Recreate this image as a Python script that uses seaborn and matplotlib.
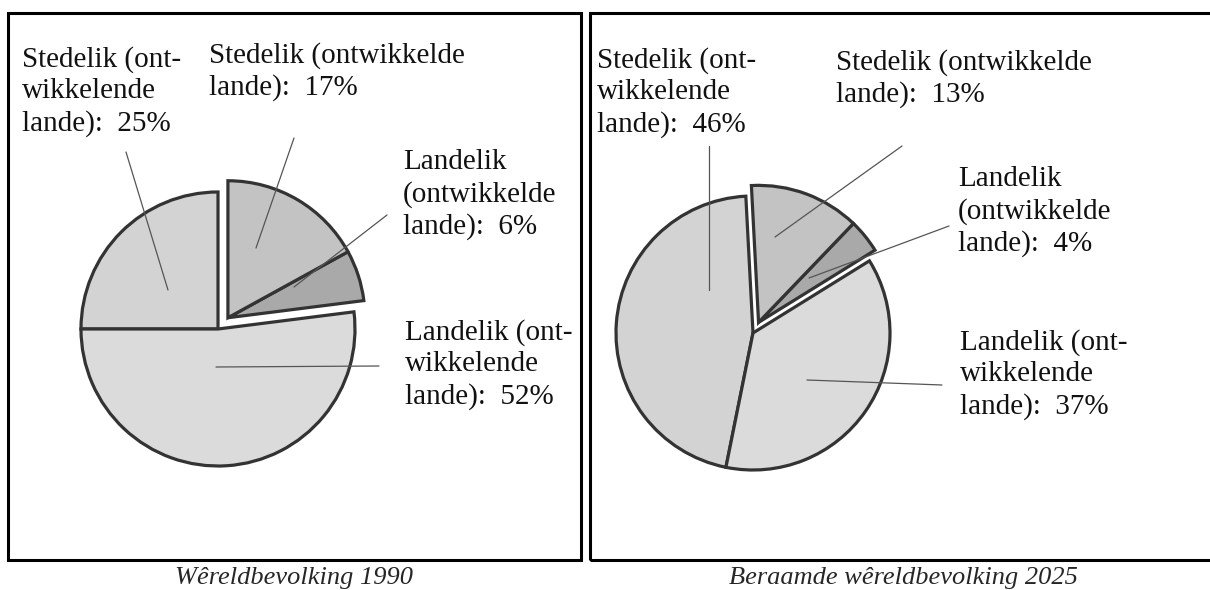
import numpy as np
import seaborn as sns
import matplotlib.pyplot as plt
from matplotlib.patches import Rectangle

sns.set_style("white")
plt.rcParams['font.family'] = ['Liberation Serif', 'DejaVu Serif']

# data: order = as drawn counter-clockwise from the start angle
labels_1990 = ["Stedelik (ont-\nwikkelende\nlande):  25%",
               "Landelik (ont-\nwikkelende\nlande):  52%",
               "Landelik\n(ontwikkelde\nlande):  6%",
               "Stedelik (ontwikkelde\nlande):  17%"]
values_1990 = [25, 52, 6, 17]

labels_2025 = ["Stedelik (ont-\nwikkelende\nlande):  46%",
               "Landelik (ont-\nwikkelende\nlande):  37%",
               "Landelik\n(ontwikkelde\nlande):  4%",
               "Stedelik (ontwikkelde\nlande):  13%"]
values_2025 = [46, 37, 4, 13]

titles = ["Wêreldbevolking 1990", "Beraamde wêreldbevolking 2025"]

# grey shades per slice
kleure = ["#d3d3d3", "#dbdbdb", "#a9a9a9", "#c3c3c3"]

W, H = 1210, 590
fig = plt.figure(figsize=(W / 100, H / 100), dpi=100)
ax = fig.add_axes([0, 0, 1, 1])


def py(y):
    # pixel row (from top) -> data y
    return H - y


def teken_pie(values, labels, center, start, skuif, label_pos, lyne):
    wedges, _ = ax.pie(values, colors=kleure, startangle=start, counterclock=True,
                       center=center, radius=137,
                       wedgeprops=dict(edgecolor="#333333", linewidth=2.3))
    # the two "ontwikkelde" slices are pulled out together
    tot = sum(values)
    a0 = start + 360 * sum(values[:2]) / tot
    a1 = start + 360
    mid = np.deg2rad((a0 + a1) / 2)
    dx, dy = skuif * np.cos(mid), skuif * np.sin(mid)
    for w in wedges[2:]:
        w.set_center((center[0] + dx, center[1] + dy))
    for lab, (tx, ty) in zip(labels, label_pos):
        ax.text(tx, py(ty), lab, fontsize=21, va="top", ha="left",
                linespacing=1.27, color="#111111")
    for (x0, y0, x1, y1) in lyne:
        ax.plot([x0, x1], [py(y0), py(y1)], color="#555555", lw=0.9)


# 1990
teken_pie(values_1990, labels_1990, (218, py(329)), 90, 15,
          [(22, 46), (405, 319), (403, 149), (209, 42)],
          [(126, 152, 168, 290), (216, 367, 379, 366),
           (387, 215, 294, 287), (294, 138, 256, 248)])

# 2025
teken_pie(values_2025, labels_2025, (753, py(333)), 93, 12,
          [(597, 47), (960, 329), (958, 166), (836, 49)],
          [(709, 146, 709, 290), (807, 380, 942, 385),
           (949, 226, 809, 278), (902, 146, 775, 237)])

# panel frames
ax.add_patch(Rectangle((8, py(560)), 573, 547, fill=False, edgecolor="black", lw=2.2))
ax.add_patch(Rectangle((590, py(560)), 640, 547, fill=False, edgecolor="black", lw=2.2))

ax.text(294, py(578), titles[0], fontsize=19, style="italic", ha="center", va="center")
ax.text(903, py(578), titles[1], fontsize=19, style="italic", ha="center", va="center")

ax.set_xlim(0, W)
ax.set_ylim(0, H)
ax.set_aspect("auto")
ax.axis("off")

fig.savefig("out.png", dpi=100)
